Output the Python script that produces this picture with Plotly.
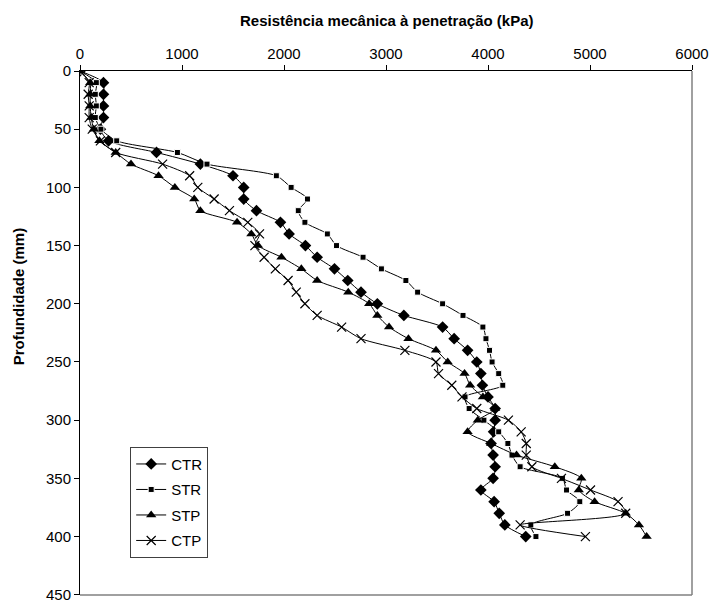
import plotly.graph_objects as go

depth = [0, 10, 20, 30, 40, 50, 60, 70, 80, 90, 100, 110, 120, 130, 140, 150, 160, 170, 180, 190,
         200, 210, 220, 230, 240, 250, 260, 270, 280, 290, 300, 310, 320, 330, 340, 350, 360, 370,
         380, 390, 400]

ctr = [0, 230, 230, 230, 230, 200, 280, 750, 1180, 1500, 1605, 1605, 1730, 1965, 2050, 2210, 2325,
       2495, 2625, 2755, 2915, 3175, 3555, 3668, 3800, 3890, 3930, 3945, 4000, 4070, 4070, 4055,
       4030, 4050, 4070, 4050, 3930, 4060, 4110, 4165, 4370]
str_ = [0, 160, 150, 160, 150, 205, 360, 955, 1245, 1925, 2070, 2230, 2140, 2205, 2425, 2515, 2775,
        2955, 3195, 3310, 3555, 3755, 3950, 3980, 4015, 4040, 4105, 4145, 3775, 3815, 3960, 4105,
        4195, 4235, 4315, 4730, 4770, 4900, 4780, 4420, 4470]
stp = [0, 100, 100, 100, 110, 135, 190, 350, 500, 770, 930, 1120, 1180, 1540, 1680, 1745, 1975,
       2170, 2325, 2630, 2835, 2915, 3030, 3220, 3490, 3605, 3770, 3825, 3950, 4070, 3900, 3800,
       4030, 4280, 4655, 4915, 4890, 5045, 5350, 5480, 5555]
ctp = [0, 90, 80, 90, 90, 120, 200, 350, 810, 1075, 1155, 1315, 1465, 1645, 1760, 1715, 1805,
       1915, 2040, 2120, 2205, 2325, 2565, 2755, 3185, 3490, 3515, 3645, 3745, 3890, 4200, 4325,
       4375, 4375, 4430, 4720, 5005, 5275, 5350, 4315, 4955]

series_names = ["CTR", "STR", "STP", "CTP"]
x_title = "Resistência mecânica à penetração (kPa)"
y_title = "Profundidade (mm)"
y_ticks = [0, 50, 100, 150, 200, 250, 300, 350, 400, 450]

FONT = "Liberation Sans, Arial, sans-serif"

styles = {
    "CTR": dict(symbol="diamond", size=9, line=dict(width=0)),
    "STR": dict(symbol="square", size=6, line=dict(width=1, color="white")),
    "STP": dict(symbol="triangle-up", size=9, line=dict(width=0)),
    "CTP": dict(symbol="x-thin-open", size=9, line=dict(width=1.2, color="black")),
}

fig = go.Figure()
for name, vals in zip(series_names, [ctr, str_, stp, ctp]):
    st = styles[name]
    fig.add_trace(go.Scatter(
        x=vals, y=depth, name=name, mode="lines+markers", legendgroup=name,
        line=dict(color="black", width=1, shape="spline", smoothing=0.7),
        marker=dict(color="black", symbol=st["symbol"], size=st["size"], line=st["line"]),
    ))

fig.update_layout(
    width=712, height=600,
    margin=dict(l=80, r=20, t=71, b=5, autoexpand=False),
    paper_bgcolor="white", plot_bgcolor="white",
    font=dict(family=FONT, size=15, color="black"),
    showlegend=True,
    legend=dict(x=0.082, y=0.283, xanchor="left", yanchor="top",
                bordercolor="#404040", borderwidth=1, bgcolor="white",
                font=dict(family=FONT, size=15, color="black"),
                traceorder="grouped", tracegroupgap=3),
    xaxis=dict(side="top", range=[0, 6000], dtick=1000, tick0=0,
               showline=True, linecolor="black", linewidth=1,
               ticks="outside", ticklen=5, tickcolor="black", automargin=False,
               showgrid=False, zeroline=False, ticklabeloverflow="allow",
               tickfont=dict(family=FONT, size=15, color="black")),
    yaxis=dict(range=[450.2, 0], tickmode="array", tickvals=y_ticks,
               ticktext=[str(t) for t in y_ticks], automargin=False,
               showline=True, linecolor="black", linewidth=1,
               ticks="outside", ticklen=5, tickcolor="black",
               showgrid=False, zeroline=False, ticklabeloverflow="allow",
               tickfont=dict(family=FONT, size=15, color="black")),
    shapes=[
        dict(type="line", xref="paper", yref="paper", x0=1, x1=1, y0=0, y1=1,
             line=dict(color="#808080", width=1.5), layer="below"),
        dict(type="line", xref="paper", yref="paper", x0=0, x1=1, y0=0, y1=0,
             line=dict(color="#808080", width=1.5), layer="below"),
    ],
    annotations=[
        dict(text="<b>" + x_title + "</b>", xref="paper", yref="paper",
             x=0.5, y=1, yshift=51, showarrow=False, xanchor="center", yanchor="middle",
             font=dict(family=FONT, size=15, color="black")),
        dict(text="<b>" + y_title + "</b>", xref="paper", yref="paper",
             x=0, xshift=-62, y=0.57, textangle=-90, showarrow=False,
             xanchor="center", yanchor="middle",
             font=dict(family=FONT, size=15, color="black")),
    ],
)

fig.write_html("out.html")
